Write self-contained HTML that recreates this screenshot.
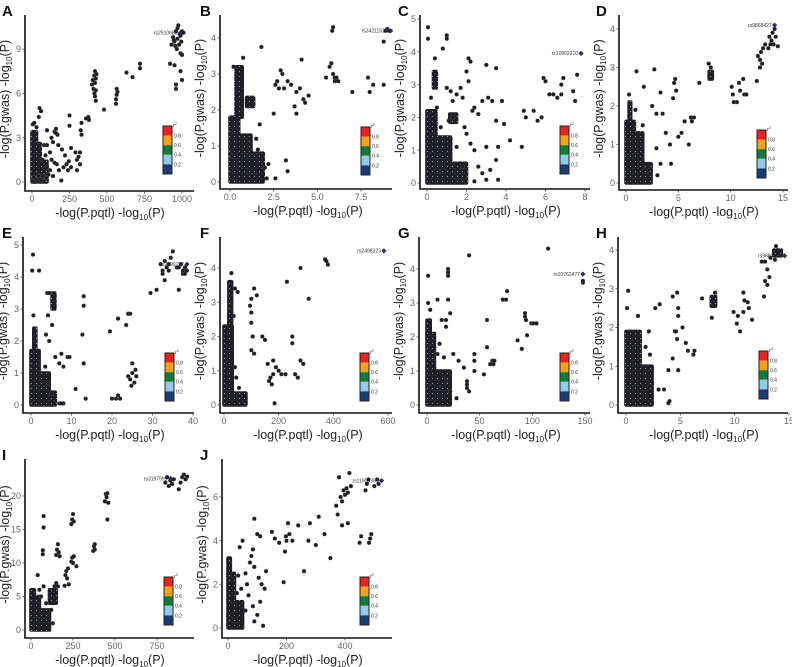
<!DOCTYPE html>
<html><head><meta charset="utf-8">
<style>
html,body{margin:0;padding:0;background:#fff;}
body{width:792px;height:667px;position:relative;overflow:hidden;font-family:"Liberation Sans",sans-serif;}
.panel{position:absolute;width:198px;height:223px;}
svg{display:block;overflow:visible;}
.tk{font-size:9px;fill:#666;font-family:"Liberation Sans",sans-serif;}
.ttl{font-size:12.5px;fill:#222;font-family:"Liberation Sans",sans-serif;}
.lab{font-size:5px;fill:#333;font-family:"Liberation Sans",sans-serif;}
.let{font-size:15px;font-weight:bold;fill:#111;font-family:"Liberation Sans",sans-serif;}
</style></head>
<body>
<div id="root"></div>
<script>
// ---- data ----
const xTicksA=[0,250,500,750,1000], yTicksA=[0,3,6,9];
const denseA=[[0,55,0,2.6],[0,30,2.6,3.4],[55,100,0,1.4]];
const pointsA=[[5,0.1],[12,0.3],[20,0],[28,0.2],[36,0.1],[44,0.4],[52,0.2],[60,0.1],[5,3.9],[15,4],[30,3.7],[45,4.4],[50,5],[60,4.8],[70,1.5],[80,2.5],[90,1.8],[100,1],[100,2.5],[110,0.5],[120,2],[130,3],[140,2.7],[150,3.4],[160,3.6],[170,3.2],[175,2.5],[150,1.3],[165,1.2],[180,0.8],[195,0.1],[210,1],[220,1.8],[230,1.2],[240,0.8],[250,4.5],[245,1.4],[260,2.3],[290,2],[300,1.5],[300,0.8],[310,1.7],[320,2],[325,3.5],[320,1.2],[330,3.2],[330,4],[250,3.8],[260,1],[100,3.5],[130,1.5],[200,2.2],[70,0.4],[85,0.9],[95,0.3],[120,0.8],[140,0.4],[160,3.3],[360,4.3],[375,4.4],[380,4.2],[400,6.6],[405,6.9],[410,6.3],[415,7.2],[420,7.5],[420,6.7],[425,7],[425,6.2],[420,5.8],[425,5.5],[430,7.3],[415,6],[480,4.9],[560,5.3],[560,5.6],[565,5.9],[565,6.3],[570,6.1],[630,7.4],[670,7.1],[720,7.7],[720,8],[920,8],[950,7.9],[990,7.5],[1000,6.9],[960,6.6],[960,6.3],[930,9.3],[940,9.8],[950,9.5],[960,10.2],[965,9],[970,9.7],[975,10.6],[980,9.3],[985,10],[990,8.7],[995,9.5],[1000,10.2],[1010,10.1],[955,9.2],[970,10.4],[990,9.9],[945,9.6],[1000,8.6]];
const snpA=[990,10.1], nameA="rs2910686";

const xTicksB=[0,2.5,5,7.5], yTicksB=[0,1,2,3,4];
const denseB=[[0,1.9,0,0.8],[0,1.2,0.8,1.3],[0,0.5,1.3,1.8],[0.35,0.7,1.8,3.2],[0.95,1.35,2.1,2.35]];
const pointsB=[[2.1,0.1],[2,0.4],[2.2,0.5],[1.5,1.2],[0.75,3.45],[0.2,3.2],[1.8,3.75],[1.7,1.6],[1.6,0.9],[2.6,0.1],[3.3,0.3],[3.2,0.6],[2.5,1.9],[2.6,2.7],[2.7,2.8],[2.9,3.1],[3,3],[3.1,2.6],[3.3,2.8],[3.5,2.7],[3.7,2.1],[3.8,1.9],[3.8,2.5],[4,2.6],[4.1,3.4],[4.2,2.3],[4.3,2.2],[4.5,2.4],[2.8,2.6],[5.5,2.9],[5.7,3.2],[5.8,3.3],[5.9,4.3],[5.85,4.2],[6,2.9],[6,2.8],[6.1,2.9],[6.2,2.8],[5.9,3],[7,2.5],[7.9,2.9],[8,2.5],[8.2,2.7],[8.8,2.7],[8.8,3.9],[8.9,4.2],[9,4.25],[9.1,4.2]];
const snpB=[9.2,4.2], nameB="rs34211510";

const xTicksC=[0,2,4,6,8], yTicksC=[0,1,2,3,4,5];
const denseC=[[0,2,0,0.6],[0,1.2,0.6,1.4],[0,0.45,1.4,2.2],[0.33,0.47,2.9,3.4],[1.15,1.5,1.85,2.1]];
const pointsC=[[2.4,0.05],[1.8,0.5],[1.5,1.1],[0.7,1.7],[1.1,1.9],[1.3,2],[0.5,2.3],[0.05,4.75],[0.05,4.4],[1,4.5],[1,4.4],[0.8,4.1],[0.4,3.8],[0.2,2.6],[2.1,3.8],[2.2,3.7],[2,3.4],[2.1,3.1],[3,3.6],[3.5,3.5],[2.4,2.3],[2.3,2.2],[2.6,2.1],[2.8,2.5],[3.1,2.6],[3.3,2.5],[3.8,2.5],[3.5,1.9],[3.9,1.8],[4.2,1.3],[3.6,1.1],[3,1.1],[3.5,0.7],[3.2,0.4],[4.8,1.1],[4.9,2.2],[5,2],[5.4,2.2],[5.6,1.9],[5.8,2],[5.9,3.2],[6,3.1],[6.2,2.7],[6.4,2.7],[6.6,2.6],[6.8,2.7],[6.8,3],[6.9,3.2],[7.4,2.8],[7.5,2.5],[7.6,3.3],[1,2.9],[1.2,2.8],[1.3,2.5],[1.5,2.7],[1.7,2.9],[1.8,2.6],[1.9,1.7],[2,1.5],[2.2,1.2],[2.4,1],[2.6,0.5],[2.8,0.3],[3,0.1],[3.6,0.1]];
const snpC=[7.8,3.95], nameC="rs10902210";

const xTicksD=[0,5,10,15], yTicksD=[0,1,2,3,4];
const denseD=[[0,2.4,0,0.5],[0,1.6,0.5,1.3],[0,0.8,1.3,1.6],[0.3,0.45,1.6,2.1],[7.95,8.25,2.7,2.9]];
const pointsD=[[0.3,2.3],[0.9,1.9],[1.6,1.5],[1,2.9],[1.7,2.5],[2.7,2.95],[3.3,2.35],[2.5,2],[2.9,1.8],[3.5,1.8],[4.5,2.2],[4.7,2.7],[4.6,2.6],[4.8,2.4],[3.8,1.3],[4.2,1],[4.3,0.5],[5,1.2],[5.3,1.3],[5.6,1.6],[6,1],[6.2,1.7],[6.3,1.6],[6.5,1.7],[7,2.6],[2.9,0.9],[3,0.2],[3.3,0.5],[7.9,3.1],[8.1,3],[10.1,2.5],[10.2,2.3],[10.3,2.1],[10.6,2.1],[10.8,2.6],[10.9,2.4],[11.2,2.7],[11.3,2.3],[11.5,2.3],[12.5,2.65],[12.6,3.3],[12.8,3.2],[12.8,3],[12.9,3.4],[13,3.1],[13.1,3.5],[13.3,3.6],[13.6,3.5],[13.7,3.8],[13.9,3.7],[14,3.9],[14.1,3.6],[14.3,3.8],[14.5,3.55],[13.8,3.6],[14.2,4]];
const snpD=[14.2,4.1], nameD="rs9868427";

const xTicksE=[0,10,20,30,40], yTicksE=[0,1,2,3,4,5];
const denseE=[[0,2,0,1.7],[2,4.5,0,1],[0.7,1.2,1.7,2.4],[5.2,5.9,3,3.5],[4.5,6,0,0.4]];
const pointsE=[[5,0.35],[4.2,0.7],[3.5,1.2],[0.6,2.8],[0.5,4.7],[0.3,4.2],[2,4.2],[5.2,2.5],[4,3.5],[4.5,3.5],[4.2,2.8],[3.7,2.2],[4.5,2],[6,1.5],[7.5,1.6],[7,1.3],[8,1.2],[9,1.5],[9.5,1.5],[7,0.05],[8,0.05],[7.5,0.05],[11,0.5],[13,3.4],[13,3.1],[12.7,2.2],[13,1.3],[13.5,0.2],[19.5,2.3],[20,0.2],[21,0.2],[21.5,0.3],[22,0.2],[21.5,2.7],[23.5,2.5],[24,2.85],[24.5,2.85],[25,1.3],[24,0.9],[24.5,0.8],[25,1],[25.5,0.7],[26,0.9],[24.8,0.6],[25.8,1.1],[29.5,3.5],[31,3.6],[32,4.4],[32.5,4.2],[33,3.9],[33,4.5],[34,4.2],[34,4.4],[35,4.8],[34.5,4.6],[36,4.3],[36.5,3.6],[36.5,4.3],[37,4.4],[37.5,4.1],[38,4.3],[38.5,4.2],[37.5,4.2],[32.5,4.1],[33.5,4.3],[38,4.1]];
const snpE=[38.5,4.4], nameE="rs2999157";

const xTicksF=[0,200,400,600], yTicksF=[0,1,2,3,4];
const denseF=[[0,30,0,2.3],[18,28,2.3,3.6],[30,80,0,0.35]];
const pointsF=[[27,3.85],[40,3.4],[50,3.3],[45,0.8],[55,0.5],[40,1.1],[35,2.6],[100,3.1],[100,2.7],[110,3.4],[120,3.2],[95,2.9],[100,2.4],[105,2],[100,1.6],[110,1.5],[140,2],[150,1.9],[160,1.2],[180,0.9],[170,0.8],[190,1.1],[175,0.6],[165,0.7],[185,0.05],[180,1.3],[200,1],[210,0.9],[230,3.6],[250,2],[250,1.8],[260,0.9],[270,0.8],[280,1.3],[290,1.2],[280,4],[310,3.1],[370,4.25],[375,4.2],[380,4.1],[225,0.9]];
const snpF=[585,4.5], nameF="rs2498323";

const xTicksG=[0,50,100,150], yTicksG=[0,1,2,3,4];
const denseG=[[0,7,0,2.1],[7,22,0,1.0],[0,3,2.1,2.5]];
const pointsG=[[22,0.4],[18,0.7],[16,1.4],[10,1.5],[12,1.8],[1,3.8],[1,3],[3,2.8],[10,3.1],[20,4],[20,3.9],[20,3.8],[20,3.1],[22,2.7],[18,2.5],[18,2.3],[14,2.5],[25,1.5],[28,0.2],[30,1.3],[35,1.1],[38,0.5],[38,0.6],[38,0.7],[40,0.4],[40,4.4],[45,1.5],[45,1.3],[45,1],[54,0.9],[57,1.7],[57,2.5],[60,1.2],[62,1.3],[63,1.2],[64,1.3],[72,3.1],[75,3.1],[76,3.35],[86,1.9],[90,1.65],[93,2.7],[93,2.6],[94,2.5],[95,2.05],[99,2.4],[101,2.4],[104,2.4],[115,4.6],[148,3.6],[148,3.65]];
const snpG=[148,3.85], nameG="rs10762477";

const xTicksH=[0,5,10,15], yTicksH=[0,1,2,3,4];
const denseH=[[0,2.4,0,1.0],[0,1.3,1.0,1.9],[7.85,8.25,2.55,2.8],[13.6,14.3,3.85,4.0]];
const pointsH=[[2.1,1.9],[1.8,1.5],[2.2,1.3],[0.2,2.95],[0.1,2.5],[1.1,2.3],[3.1,2.6],[2.7,2.5],[4.3,2.8],[4.7,2.9],[4.8,2.5],[4.8,2.3],[4.5,1.9],[4.6,1.9],[5.2,2],[4.7,1.7],[5.5,1.6],[5.7,1.4],[6.2,1.3],[6.3,1.4],[4.3,1.2],[4.8,0.9],[3.9,0.9],[3.9,0.05],[4,0.1],[3.5,0.4],[3,0.4],[7,2.75],[7.9,2.25],[8.2,2.9],[9.9,2.4],[10.2,2.1],[10.5,1.9],[10.3,2.3],[10.8,2.9],[10.9,2.7],[11.2,2.65],[11.3,2.5],[11.6,2.2],[10.8,2.4],[12.7,2.8],[12.8,3.2],[13,3.1],[13.2,3.3],[13,3.5],[12.5,3.7],[12.8,3.7],[13.3,3.8],[13.8,4.1],[13.7,3.75]];
const snpH=[14.6,3.85], nameH="rs9880919";

const xTicksI=[0,250,500,750], yTicksI=[0,5,10,15,20];
const denseI=[[0,50,0,5],[50,110,0,3],[110,150,4,6],[0,20,5,6]];
const pointsI=[[130,1],[120,3],[90,4],[140,6.5],[160,6.5],[150,7],[75,6.5],[50,6],[60,5],[40,8.2],[75,17],[75,15.3],[70,11.9],[70,11.3],[150,11.2],[155,12],[160,12.8],[165,11.6],[170,11],[200,6.6],[205,8.2],[210,8.8],[215,7.7],[220,9.2],[225,6.8],[240,15.8],[245,16.5],[250,17.3],[255,16.2],[240,10.2],[245,10.8],[250,10],[255,11],[270,9.5],[370,11.8],[375,12.5],[380,12.8],[380,12],[440,19.2],[445,20.3],[450,19.8],[455,20.4],[460,19],[455,16.5],[800,22],[810,22.8],[820,21.5],[830,22.3],[840,21.8],[850,22.5],[880,21],[890,22],[900,22.8],[910,23.2],[920,22.5],[930,22.9]];
const snpI=[830,22.6], nameI="rs3197999";

const xTicksJ=[0,200,400], yTicksJ=[0,2,4,6];
const denseJ=[[0,22,0,2.5],[22,50,0,1.2],[0,8,2.5,3.2]];
const pointsJ=[[40,3.7],[50,4],[60,2.5],[65,2],[70,1.5],[75,3],[80,3.3],[85,3.6],[90,2.8],[85,1],[90,0.3],[100,0.6],[105,2.3],[110,1.2],[115,2],[120,0.1],[125,1.8],[130,2.6],[60,0.8],[45,1.8],[35,2.4],[30,1.6],[90,5],[100,4.3],[110,4.2],[150,4.4],[160,4.1],[175,3.9],[190,2.1],[195,3.5],[198,4.2],[200,4],[205,4.8],[210,4.3],[220,4],[240,4.7],[260,2.6],[275,4],[280,4.8],[300,3.8],[310,5.1],[330,4.3],[350,3.2],[370,5.6],[375,5.2],[380,6.9],[385,6],[390,4.7],[390,5.8],[395,6.3],[400,6.1],[405,6.4],[410,4.8],[410,6.2],[415,7.1],[420,6.5],[450,3.9],[455,4.2],[470,6.3],[475,6.6],[480,6.8],[482,3.9],[486,4.1],[490,4.3],[500,6.5],[510,6.8],[515,6.6]];
const snpJ=[525,6.75], nameJ="rs11908351";

// ---- layout (pixel geometry, not data) ----
const panels=[
 {id:"A",left:0,top:0,ax:25,ay:191,xp:[32,182],yp:[182,49],xt:xTicksA,yt:yTicksA,pts:pointsA,dn:denseA,snp:snpA,nm:nameA,lg:[163,126]},
 {id:"B",left:198,top:0,ax:22,ay:189,xp:[32,163],yp:[182,38],xt:xTicksB,yt:yTicksB,pts:pointsB,dn:denseB,snp:snpB,nm:nameB,lg:[163,127]},
 {id:"C",left:396,top:0,ax:24,ay:189,xp:[31,189],yp:[183,19],xt:xTicksC,yt:yTicksC,pts:pointsC,dn:denseC,snp:snpC,nm:nameC,lg:[164,126]},
 {id:"D",left:594,top:0,ax:25,ay:190,xp:[32,189],yp:[183,29],xt:xTicksD,yt:yTicksD,pts:pointsD,dn:denseD,snp:snpD,nm:nameD,lg:[163,130]},
 {id:"E",left:0,top:222,ax:23,ay:191,xp:[31,193],yp:[183,23],xt:xTicksE,yt:yTicksE,pts:pointsE,dn:denseE,snp:snpE,nm:nameE,lg:[165,131]},
 {id:"F",left:198,top:222,ax:22,ay:191,xp:[26,190],yp:[183,46],xt:xTicksF,yt:yTicksF,pts:pointsF,dn:denseF,snp:snpF,nm:nameF,lg:[162,131]},
 {id:"G",left:396,top:222,ax:23,ay:191,xp:[31,189],yp:[183,47],xt:xTicksG,yt:yTicksG,pts:pointsG,dn:denseG,snp:snpG,nm:nameG,lg:[164,131]},
 {id:"H",left:594,top:222,ax:24,ay:191,xp:[32,195],yp:[183,28],xt:xTicksH,yt:yTicksH,pts:pointsH,dn:denseH,snp:snpH,nm:nameH,lg:[165,129]},
 {id:"I",left:0,top:444,ax:25,ay:194,xp:[31,157],yp:[186,52],xt:xTicksI,yt:yTicksI,pts:pointsI,dn:denseI,snp:snpI,nm:nameI,lg:[164,133]},
 {id:"J",left:198,top:444,ax:24,ay:194,xp:[30,147],yp:[184,53],xt:xTicksJ,yt:yTicksJ,pts:pointsJ,dn:denseJ,snp:snpJ,nm:nameJ,lg:[162,133]}
];
const NS="http://www.w3.org/2000/svg";
function mk(tag,attrs,parent){const e=document.createElementNS(NS,tag);for(const k in attrs)e.setAttribute(k,attrs[k]);if(parent)parent.appendChild(e);return e;}
const legendColors=["#e8231f","#f2a31b","#137a3a","#8fcbe6","#1c3a73"];
const legendLabels=["0.8","0.6","0.4","0.2",""];
const root=document.getElementById('root');
panels.forEach(p=>{
  const div=document.createElement('div');
  div.className='panel';
  div.style.left=p.left+'px';div.style.top=p.top+'px';
  
  
  root.appendChild(div);
  const svg=mk('svg',{width:198,height:223},div);
  const defs=mk('defs',{},svg);
  const pat=mk('pattern',{id:'spk'+p.id,width:5,height:5,patternUnits:'userSpaceOnUse'},defs);
  mk('rect',{width:5,height:5,fill:'#1d1d24'},pat);
  mk('circle',{cx:1.5,cy:1.5,r:0.6,fill:'#9a9aa0'},pat);
  mk('circle',{cx:4,cy:3.8,r:0.4,fill:'#70707a'},pat);
  const t0x=p.xt[0],t1x=p.xt[p.xt.length-1],t0y=p.yt[0],t1y=p.yt[p.yt.length-1];
  const sx=v=>p.xp[0]+(v-t0x)/(t1x-t0x)*(p.xp[1]-p.xp[0]);
  const sy=v=>p.yp[0]+(v-t0y)/(t1y-t0y)*(p.yp[1]-p.yp[0]);
  const L=mk('text',{x:2,y:16,class:'let'},svg);L.textContent=p.id;
  
  
  const g=mk('g',{},svg);
  
  
  p.dn.forEach(r=>{
    const x0=sx(r[0])-1.8,x1=sx(r[1])+1.8,y0=sy(r[3])-1.8,y1=sy(r[2])+1.8;
    const rc=mk('rect',{x:x0.toFixed(1),y:y0.toFixed(1),width:(x1-x0).toFixed(1),height:(y1-y0).toFixed(1),rx:2,fill:'url(#spk'+p.id+')'},g);
    
    
  });
  p.pts.forEach(d=>{
    const c=mk('circle',{cx:sx(d[0]).toFixed(1),cy:sy(d[1]).toFixed(1),r:2,fill:'#1d1d22',stroke:'#666','stroke-width':0.3},g);
    
    
  });
  const s=mk('path',{d:`M${sx(p.snp[0])},${sy(p.snp[1])-2.3}l2.3,2.3l-2.3,2.3l-2.3,-2.3z`,fill:'#3b2a6e',stroke:'#111','stroke-width':0.5},svg);
  
  
  const st=mk('text',{x:sx(p.snp[0])-3,y:sy(p.snp[1])+1.8,class:'lab','text-anchor':'end'},svg);st.textContent=p.nm;
  
  
  const ax=mk('path',{d:`M${p.ax},15V${p.ay}H194`,fill:'none',stroke:'#111','stroke-width':1.6},svg);
  
  
  p.xt.forEach(t=>{
    const x=sx(t);
    mk('line',{x1:x,x2:x,y1:p.ay,y2:p.ay+2.5,stroke:'#444','stroke-width':0.8},svg);
    const tx=mk('text',{x:x,y:p.ay+11,class:'tk','text-anchor':'middle'},svg);tx.textContent=(p.id==="B")?t.toFixed(1):t;
    
    
  });
  p.yt.forEach(t=>{
    const y=sy(t);
    mk('line',{x1:p.ax-2.5,x2:p.ax,y1:y,y2:y,stroke:'#444','stroke-width':0.8},svg);
    const ty=mk('text',{x:p.ax-4,y:y+3.2,class:'tk','text-anchor':'end'},svg);ty.textContent=t;
    
    
  });
  const xtl=mk('text',{x:110,y:p.ay+26,class:'ttl','text-anchor':'middle'},svg);
  xtl.innerHTML='-log(P.pqtl) -log<tspan dy="3" font-size="8">10</tspan><tspan dy="-3">(P)</tspan>';
  
  
  const ytl=mk('text',{x:0,y:0,class:'ttl','text-anchor':'middle',transform:`translate(${p.ax-16},${(p.ay+15)/2-4}) rotate(-90)`},svg);
  ytl.innerHTML='-log(P.gwas) -log<tspan dy="3" font-size="8">10</tspan><tspan dy="-3">(P)</tspan>';
  
  
  const lg=mk('g',{},svg);
  
  
  legendColors.forEach((c,i)=>{
    mk('rect',{x:p.lg[0],y:p.lg[1]+i*9.6,width:9,height:9.6,fill:c},lg);
    if(legendLabels[i]){const t=mk('text',{x:p.lg[0]+11,y:p.lg[1]+i*9.6+11.5,class:'lab'},lg);t.textContent=legendLabels[i];}
  });
  mk('rect',{x:p.lg[0],y:p.lg[1],width:9,height:48,fill:'none',stroke:'#222','stroke-width':1},lg);
  const r2=mk('text',{x:p.lg[0]+10,y:p.lg[1]+1,class:'lab'},lg);r2.innerHTML='r<tspan dy="-2" font-size="4">2</tspan>';
});
</script>
</body></html>
